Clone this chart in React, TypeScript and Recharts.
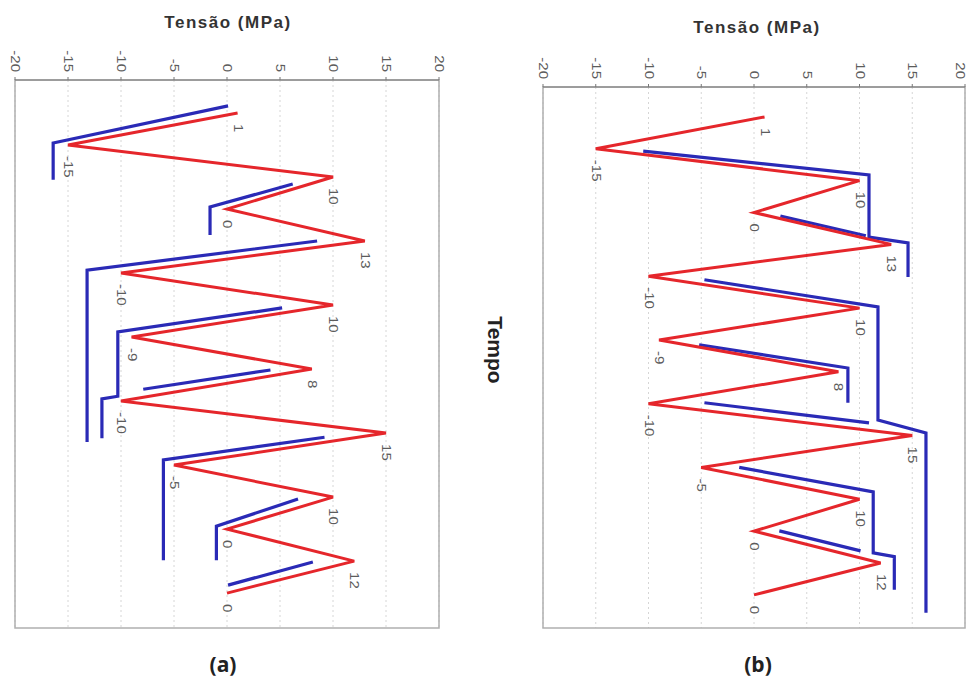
import React from 'react';
import { LineChart, Line, XAxis, YAxis, CartesianGrid, ReferenceArea, LabelList } from 'recharts';

// sequência de carregamento (tempo em passos)
const passos = [0, 1, 2, 3, 4, 5, 6, 7, 8, 9, 10, 11, 12, 13, 14, 15];
const tensao = [1, -15, 10, 0, 13, -10, 10, -9, 8, -10, 15, -5, 10, 0, 12, 0];
const ticksTensao = [-20, -15, -10, -5, 0, 5, 10, 15, 20];

// trechos azuis do painel (a): [tempo, tensão]
const azulA1 = [[-0.22, 0.1], [0.94, -16.4], [2.09, -16.4]];
const azulA2 = [[2.22, 6.2], [2.94, -1.6], [3.81, -1.6]];
const azulA3 = [[4.0, 8.5], [4.91, -13.2], [10.28, -13.2]];
const azulA4 = [[6.09, 5.2], [6.84, -10.3], [8.85, -10.3], [8.93, -11.8], [10.16, -11.8]];
const azulA5 = [[8.03, 4.1], [8.63, -7.9]];
const azulA6 = [[10.13, 9.2], [10.84, -6.0], [13.97, -6.0]];
const azulA7 = [[12.06, 6.7], [12.91, -1.0], [13.97, -1.0]];
const azulA8 = [[14.03, 8.1], [14.75, 0.1]];

// trechos azuis do painel (b)
const azulB1 = [[1.07, -10.5], [1.82, 10.9], [3.77, 10.9], [3.95, 14.6], [5.02, 14.6]];
const azulB2 = [[3.11, 2.5], [3.73, 10.6]];
const azulB3 = [[5.11, -4.7], [5.96, 11.75], [9.51, 11.75], [9.92, 16.3], [15.56, 16.3]];
const azulB4 = [[7.15, -5.2], [7.88, 8.9], [8.97, 8.9]];
const azulB5 = [[8.97, -4.7], [9.6, 10.9]];
const azulB6 = [[11.0, -1.4], [11.77, 11.3], [13.68, 11.3], [13.8, 13.3], [14.84, 13.3]];
const azulB7 = [[12.99, 2.4], [13.62, 10.1]];

const VERMELHO = '#e5262b';
const AZUL = '#2a2ab6';

const serieVermelha = passos.map((t, i) => ({ t, v: tensao[i] }));
const paraPontos = (seg: number[][]) => seg.map(([t, v]) => ({ t, v }));

const TickTopo = (props: any) => {
  const { x, y, payload } = props;
  return (
    <text
      transform={`translate(${x} ${y}) rotate(90) scale(1.25 1)`}
      textAnchor="end"
      dominantBaseline="central"
      fontSize={12}
      fontFamily="Liberation Sans, Arial, sans-serif"
      fill="#5c5c5c"
    >
      {payload.value}
    </text>
  );
};

const RotuloPico = (props: any) => {
  const { x, y, value } = props;
  if (x == null || y == null) return null;
  return (
    <text
      transform={`translate(${x} ${y + 11}) rotate(90) scale(1.25 1)`}
      textAnchor="start"
      dominantBaseline="central"
      fontSize={12}
      fontFamily="Liberation Sans, Arial, sans-serif"
      fill="#5c5c5c"
    >
      {value}
    </text>
  );
};

type PainelProps = {
  left: number;
  width: number;
  margin: { top: number; right: number; bottom: number; left: number };
  dominioTempo: [number, number];
  azul: number[][][];
};

function Painel({ left, width, margin, dominioTempo, azul }: PainelProps) {
  return (
    <div style={{ position: 'absolute', left, top: 0 }}>
      <LineChart width={width} height={640} layout="vertical" margin={margin}>
        <CartesianGrid horizontal={false} stroke="#d6d6d6" strokeDasharray="2 3" />
        <XAxis
          type="number"
          orientation="top"
          domain={[-20, 20]}
          ticks={ticksTensao}
          height={30}
          tickSize={3}
          tickMargin={5}
          tick={<TickTopo />}
          axisLine={{ stroke: '#777' }}
          tickLine={{ stroke: '#777' }}
          allowDataOverflow
        />
        <YAxis type="number" dataKey="t" domain={dominioTempo} hide allowDataOverflow />
        <ReferenceArea
          x1={-20}
          x2={20}
          y1={dominioTempo[0]}
          y2={dominioTempo[1]}
          fill="none"
          stroke="#b0b0b0"
          strokeWidth={1.5}
        />
        {azul.map((seg, i) => (
          <Line
            key={i}
            data={paraPontos(seg)}
            dataKey="v"
            stroke={AZUL}
            strokeWidth={3.2}
            dot={false}
            isAnimationActive={false}
          />
        ))}
        <Line
          data={serieVermelha}
          dataKey="v"
          stroke={VERMELHO}
          strokeWidth={3}
          dot={false}
          isAnimationActive={false}
        >
          <LabelList dataKey="v" content={<RotuloPico />} />
        </Line>
      </LineChart>
    </div>
  );
}

const tituloEixo: React.CSSProperties = {
  position: 'absolute',
  transform: 'translate(-50%, -50%)',
  fontFamily: 'Liberation Sans, Arial, sans-serif',
  fontWeight: 'bold',
  fontSize: 17,
  letterSpacing: 1.5,
  color: '#333',
  whiteSpace: 'nowrap',
};

const rotuloPainel: React.CSSProperties = {
  position: 'absolute',
  transform: 'translate(-50%, -50%)',
  fontFamily: 'Open Sans, sans-serif',
  fontWeight: 'bold',
  fontSize: 21,
  color: '#222',
};

export default function App() {
  return (
    <div style={{ position: 'absolute', left: 0, top: 0, width: 968, height: 677, background: '#fff', overflow: 'hidden' }}>
      <Painel
        left={0}
        width={460}
        margin={{ top: 50, right: 21, bottom: 12, left: 15 }}
        dominioTempo={[-1.03, 16.09]}
        azul={[azulA1, azulA2, azulA3, azulA4, azulA5, azulA6, azulA7, azulA8]}
      />
      <Painel
        left={480}
        width={488}
        margin={{ top: 57, right: 3, bottom: 12, left: 63 }}
        dominioTempo={[-0.94, 16.04]}
        azul={[azulB1, azulB2, azulB3, azulB4, azulB5, azulB6, azulB7]}
      />
      <div style={{ ...tituloEixo, left: 228, top: 23 }}>Tensão (MPa)</div>
      <div style={{ ...tituloEixo, left: 757, top: 28 }}>Tensão (MPa)</div>
      <div
        style={{
          position: 'absolute',
          left: 495,
          top: 350,
          transform: 'translate(-50%, -50%) rotate(90deg)',
          fontFamily: 'Liberation Sans, Arial, sans-serif',
          fontWeight: 'bold',
          fontSize: 21,
          color: '#222',
        }}
      >
        Tempo
      </div>
      <div style={{ ...rotuloPainel, left: 223, top: 664 }}>(a)</div>
      <div style={{ ...rotuloPainel, left: 758, top: 664 }}>(b)</div>
    </div>
  );
}
